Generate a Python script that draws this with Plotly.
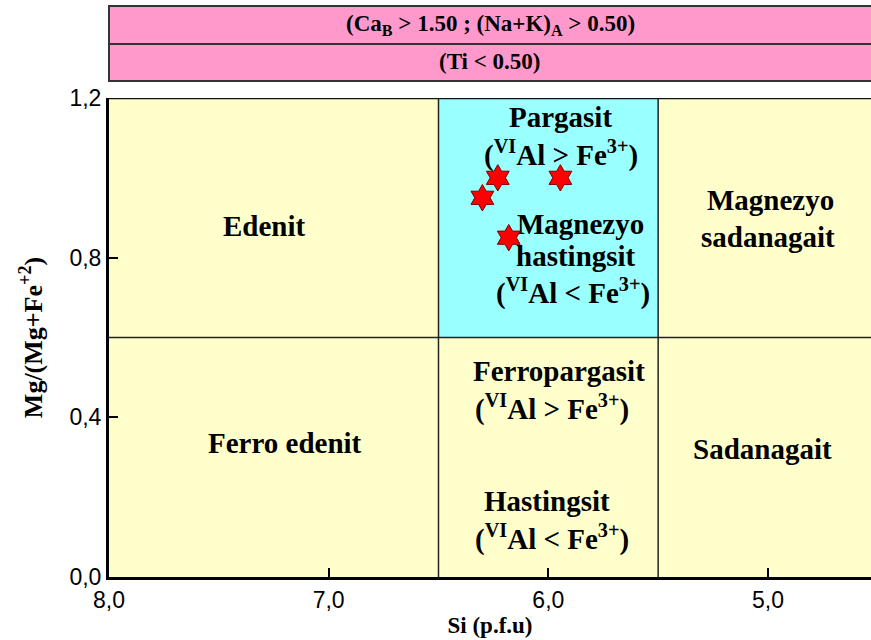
import plotly.graph_objects as go

# Axis ticks
si_ticks = [8.0, 7.0, 6.0, 5.0]
mg_ticks = [0.0, 0.4, 0.8, 1.2]

# Field boundaries of the calcic amphibole diagram
si_bounds = [6.5, 5.5]
mg_bound = 0.6

# Analysed samples
sample_si = [6.23, 5.945, 6.30, 6.18]
sample_mg = [1.00, 1.00, 0.95, 0.85]

SERIF = "Liberation Serif"
SANS = "Liberation Sans"
YELLOW = "#FFFFCC"
CYAN = "#99FFFF"
PINK = "#FF99CC"

X_RANGE = [8.0, 4.531]
Y_RANGE = [0.0, 1.2]

fig = go.Figure()

fig.add_trace(go.Scatter(
    x=sample_si, y=sample_mg, mode="markers",
    marker=dict(symbol="hexagram", size=20, color="#FF0000",
                line=dict(color="#7A0000", width=1)),
    showlegend=False, hoverinfo="skip", cliponaxis=False,
))

shapes = []
# Pargasite / magnesio-hastingsite field
shapes.append(dict(type="rect", xref="x", yref="y",
                   x0=si_bounds[0], x1=si_bounds[1], y0=mg_bound, y1=Y_RANGE[1],
                   fillcolor=CYAN, line=dict(width=0), layer="below"))
# Field dividers
for sb in si_bounds:
    shapes.append(dict(type="line", xref="x", yref="y", x0=sb, x1=sb,
                       y0=Y_RANGE[0], y1=Y_RANGE[1],
                       line=dict(color="#222222", width=1.5)))
shapes.append(dict(type="line", xref="paper", yref="y", x0=0, x1=1,
                   y0=mg_bound, y1=mg_bound, line=dict(color="#222222", width=1.5)))
# Top frame line
shapes.append(dict(type="line", xref="paper", yref="y", x0=0, x1=1,
                   y0=Y_RANGE[1], y1=Y_RANGE[1], line=dict(color="#111111", width=2.5)))

# Header boxes with the group conditions (pixel rows converted to paper units)
H = 479.0
def py(p):
    return (577.0 - p) / H

shapes.append(dict(type="rect", xref="paper", yref="paper", x0=0, x1=1.01,
                   y0=py(44), y1=py(6), fillcolor=PINK,
                   line=dict(color="#333333", width=2)))
shapes.append(dict(type="rect", xref="paper", yref="paper", x0=0, x1=1.01,
                   y0=py(81), y1=py(44), fillcolor=PINK,
                   line=dict(color="#333333", width=2)))

annotations = []
head_font = dict(family=SERIF, size=23, color="black")
annotations.append(dict(xref="paper", yref="paper", x=0.5, y=py(25),
                        xanchor="center", yanchor="middle",
                        text="<b>(Ca<sub>B</sub> > 1.50 ; (Na+K)<sub>A</sub> > 0.50)</b>",
                        showarrow=False, font=head_font))
annotations.append(dict(xref="paper", yref="paper", x=0.5, y=py(62),
                        xanchor="center", yanchor="middle",
                        text="<b>(Ti < 0.50)</b>", showarrow=False, font=head_font))

GT = "(<sup>VI</sup>Al > Fe<sup>3+</sup>)"
LT = "(<sup>VI</sup>Al < Fe<sup>3+</sup>)"
field_labels = [
    ("Edenit", 7.29, 0.879),
    ("Ferro edenit", 7.20, 0.336),
    ("Pargasit", 5.943, 1.153),
    (GT, 5.943, 1.060),
    ("Magnezyo", 5.852, 0.884),
    ("hastingsit", 5.875, 0.803),
    (LT, 5.888, 0.715),
    ("Magnezyo", 4.99, 0.944),
    ("sadanagait", 5.00, 0.852),
    ("Ferropargasit", 5.952, 0.516),
    (GT, 5.984, 0.424),
    ("Sadanagait", 5.023, 0.321),
    ("Hastingsit", 6.007, 0.190),
    (LT, 5.984, 0.098),
]
for txt, x, y in field_labels:
    annotations.append(dict(xref="x", yref="y", x=x, y=y, text="<b>" + txt + "</b>",
                            xanchor="center", yanchor="middle", showarrow=False,
                            font=dict(family=SERIF, size=29, color="black")))

axis_common = dict(
    ticks="inside", ticklen=9, tickwidth=2, tickcolor="black",
    showline=True, linewidth=3, linecolor="black",
    showgrid=False, zeroline=False, tickformat=".1f",
    tickfont=dict(family=SANS, size=23, color="black"),
)

fig.update_layout(
    width=871, height=640,
    margin=dict(l=109, r=0, t=98, b=63),
    paper_bgcolor="white", plot_bgcolor=YELLOW,
    separators=",.",
    shapes=shapes, annotations=annotations,
    xaxis=dict(range=X_RANGE, tickvals=si_ticks,
               title=dict(text="<b>Si (p.f.u)</b>", standoff=2,
                          font=dict(family=SERIF, size=23, color="black")),
               **axis_common),
    yaxis=dict(range=Y_RANGE, tickvals=mg_ticks,
               title=dict(text="<b>Mg/(Mg+Fe<sup>+2</sup>)</b>", standoff=20,
                          font=dict(family=SERIF, size=26, color="black")),
               **axis_common),
    showlegend=False,
)

fig.write_html("out.html")
